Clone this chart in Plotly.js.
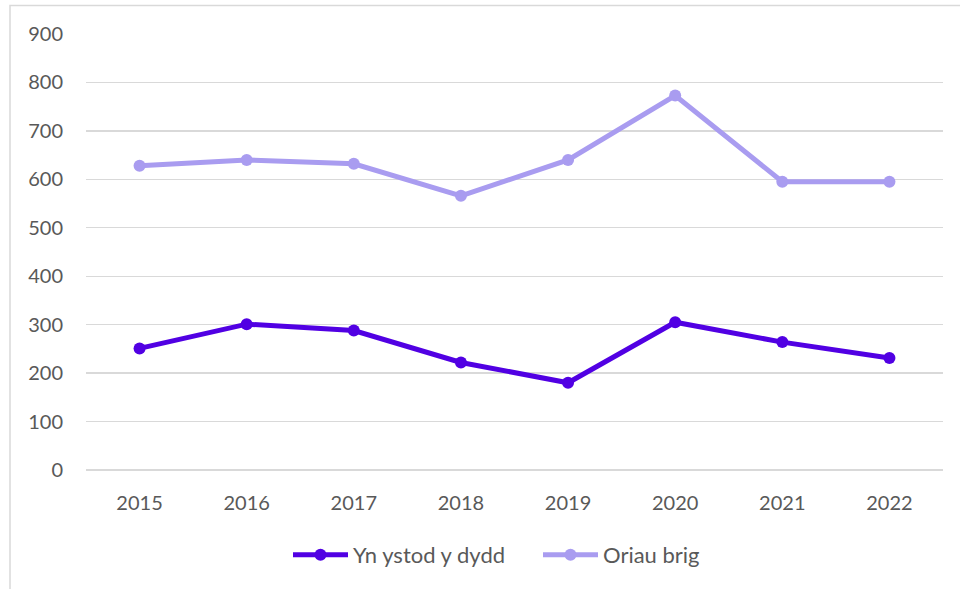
<!DOCTYPE html>
<html>
<head>
<meta charset="utf-8">
<script src="https://cdn.plot.ly/plotly-3.0.1.min.js"></script>
<style>html,body{margin:0;padding:0;background:#fff;}#chart{width:960px;height:589px;}</style>
</head>
<body>
<div id="chart"></div>
<script>
const years = ['2015','2016','2017','2018','2019','2020','2021','2022'];
const seriesNames = ['Yn ystod y dydd', 'Oriau brig'];
const daytime = [251, 301, 288, 222, 180, 305, 264, 231];
const peak = [628, 640, 632, 566, 640, 773, 595, 595];
const yTicks = [0, 100, 200, 300, 400, 500, 600, 700, 800, 900];

const font = {family: 'Lato, "Open Sans", sans-serif', size: 20, color: '#595959'};
const legendFont = {family: 'Lato, "Open Sans", sans-serif', size: 22, color: '#595959'};

const traces = [
  {x: years, y: daytime, name: seriesNames[0], type: 'scatter', mode: 'lines+markers',
   line: {color: '#5100e3', width: 5}, marker: {color: '#5100e3', size: 12}},
  {x: years, y: peak, name: seriesNames[1], type: 'scatter', mode: 'lines+markers',
   line: {color: '#a99cf0', width: 5}, marker: {color: '#a99cf0', size: 12}}
];

const layout = {
  width: 960, height: 589,
  margin: {l: 86, r: 17, t: 34, b: 119},
  paper_bgcolor: '#ffffff', plot_bgcolor: '#ffffff',
  font: font,
  showlegend: true,
  legend: {orientation: 'h', x: (288-86)/857, xanchor: 'left', y: -0.195, yanchor: 'middle',
           font: legendFont, itemwidth: 55, traceorder: 'normal', entrywidth: 180, entrywidthmode: 'pixels'},
  xaxis: {type: 'category', range: [-0.5, 7.5], showgrid: false, zeroline: false,
          showline: false, ticks: '', tickfont: font, ticklabelstandoff: 19},
  yaxis: {range: [0, 900], tickvals: yTicks, showgrid: true, gridcolor: '#d9d9d9', gridwidth: 1.3,
          zeroline: true, zerolinecolor: '#d9d9d9', zerolinewidth: 1.3, showline: false,
          ticks: '', tickfont: font, ticklabelstandoff: 22, fixedrange: true},
  shapes: [
    {type: 'rect', xref: 'paper', yref: 'paper', x0: (10-86)/857, x1: (970-86)/857,
     y0: (470-600)/436, y1: (470-5.5)/436, line: {color: '#d9d9d9', width: 1.5}, fillcolor: 'rgba(0,0,0,0)', layer: 'below'}
  ]
};

Plotly.newPlot('chart', traces, layout, {displayModeBar: false, staticPlot: true});
</script>
</body>
</html>
